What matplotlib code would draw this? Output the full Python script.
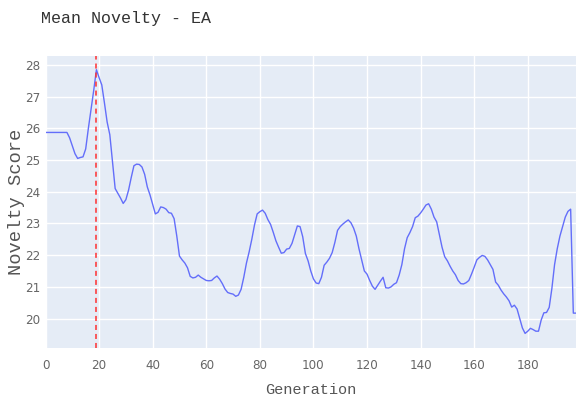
import matplotlib
matplotlib.use("Agg")
import matplotlib.pyplot as plt
import numpy as np

# mean novelty per generation
novelty = [
    25.87, 25.87, 25.87, 25.87, 25.87, 25.87, 25.87, 25.87, 25.87, 25.7,
    25.45, 25.2, 25.05, 25.08, 25.1, 25.35, 26.0, 26.6, 27.2, 27.85,
    27.6, 27.37, 26.8, 26.2, 25.8, 24.95, 24.1, 23.95, 23.8, 23.63,
    23.75, 24.05, 24.45, 24.82, 24.87, 24.86, 24.78, 24.55, 24.15, 23.9,
    23.6, 23.3, 23.35, 23.52, 23.5, 23.45, 23.34, 23.32, 23.15, 22.6,
    21.97, 21.85, 21.75, 21.6, 21.33, 21.28, 21.3, 21.37, 21.3, 21.25,
    21.2, 21.19, 21.2, 21.28, 21.34, 21.24, 21.1, 20.93, 20.82, 20.79,
    20.77, 20.7, 20.74, 20.92, 21.3, 21.75, 22.1, 22.5, 22.95, 23.3,
    23.37, 23.42, 23.32, 23.12, 22.97, 22.72, 22.45, 22.25, 22.06, 22.08,
    22.19, 22.21, 22.37, 22.65, 22.92, 22.9, 22.58, 22.05, 21.82, 21.5,
    21.25, 21.12, 21.1, 21.3, 21.68, 21.78, 21.9, 22.08, 22.4, 22.78,
    22.9, 22.98, 23.05, 23.11, 23.02, 22.85, 22.6, 22.2, 21.85, 21.5,
    21.4, 21.2, 21.02, 20.92, 21.05, 21.18, 21.3, 20.97, 20.96, 21.0,
    21.08, 21.13, 21.37, 21.7, 22.2, 22.55, 22.71, 22.9, 23.18, 23.23,
    23.33, 23.45, 23.58, 23.62, 23.45, 23.2, 23.05, 22.65, 22.25, 21.95,
    21.82, 21.65, 21.5, 21.38, 21.2, 21.1, 21.09, 21.13, 21.2, 21.4,
    21.62, 21.85, 21.93, 21.99, 21.96, 21.85, 21.7, 21.55, 21.15, 21.05,
    20.9, 20.78, 20.68, 20.56, 20.36, 20.42, 20.3, 20.0, 19.7, 19.53,
    19.6, 19.69, 19.65, 19.6, 19.6, 19.95, 20.18, 20.19, 20.35, 20.95,
    21.7, 22.2, 22.6, 22.9, 23.2, 23.38, 23.45, 20.17, 20.17,
]
generations = np.arange(len(novelty))
best_gen = 19

x_ticks = [0, 20, 40, 60, 80, 100, 120, 140, 160, 180]
y_ticks = [20, 21, 22, 23, 24, 25, 26, 27, 28]

mono = "Liberation Mono"

fig = plt.figure(figsize=(5.76, 4.01), dpi=100)
ax = fig.add_axes([0.079, 0.133, 0.921, 0.728])
ax.set_facecolor("#E5ECF6")

ax.plot(generations, novelty, color="#636EFA", lw=1.0, zorder=3)
vline = ax.axvline(best_gen, color="#FF3030", lw=1.1, zorder=4)
vline.set_dashes([3.3, 2.6])

ax.set_xlim(0, 198)
ax.set_ylim(19.08, 28.29)
ax.set_xticks(x_ticks)
ax.set_yticks(y_ticks)
ax.grid(True, color="white", lw=1.0, zorder=0)
ax.set_axisbelow(True)
for s in ax.spines.values():
    s.set_visible(False)
ax.tick_params(length=0, labelsize=9.5, labelcolor="#666666")
ax.tick_params(axis="x", pad=8)
ax.tick_params(axis="y", pad=4)
for lbl in ax.get_xticklabels() + ax.get_yticklabels():
    lbl.set_fontfamily("DejaVu Sans")
    lbl.set_fontstretch("condensed")

ax.set_xlabel("Generation", fontfamily=mono, fontsize=11, color="#555555")
ax.set_ylabel("Novelty Score", fontfamily=mono, fontsize=13.5, color="#555555")
ax.xaxis.label.set_va("center")
ax.yaxis.label.set_va("center")
ax.xaxis.set_label_coords(0.5, -0.145)
ax.yaxis.set_label_coords(-0.055, 0.5)

fig.text(0.072, 0.955, "Mean Novelty - EA", fontfamily=mono, fontsize=12,
         color="#333333", va="center", ha="left")

fig.savefig("out.png", dpi=100)
